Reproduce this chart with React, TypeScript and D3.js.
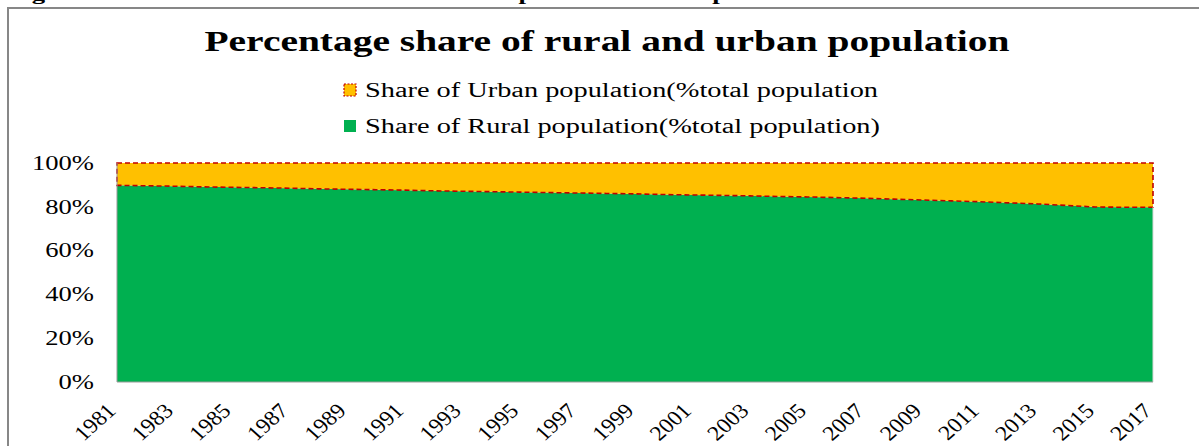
import React from "react";
import * as d3 from "d3";

const years = [1981,1982,1983,1984,1985,1986,1987,1988,1989,1990,1991,1992,1993,1994,1995,1996,1997,1998,1999,2000,2001,2002,2003,2004,2005,2006,2007,2008,2009,2010,2011,2012,2013,2014,2015,2016,2017];
const ruralShare = [89.8,89.6,89.4,89.1,88.9,88.7,88.5,88.2,88.0,87.8,87.6,87.3,87.1,86.9,86.7,86.5,86.3,86.1,85.9,85.6,85.4,85.2,85.0,84.7,84.5,84.2,83.9,83.5,83.1,82.7,82.3,81.8,81.3,80.6,79.9,79.8,79.8];
const urbanShare = [10.2,10.4,10.6,10.9,11.1,11.3,11.5,11.8,12.0,12.2,12.4,12.7,12.9,13.1,13.3,13.5,13.7,13.9,14.1,14.4,14.6,14.8,15.0,15.3,15.5,15.8,16.1,16.5,16.9,17.3,17.7,18.2,18.7,19.4,20.1,20.2,20.2];
const yTicks = [0, 20, 40, 60, 80, 100];
const xTickYears = [1981,1983,1985,1987,1989,1991,1993,1995,1997,1999,2001,2003,2005,2007,2009,2011,2013,2015,2017];
const titleText = "Percentage share of rural and urban population";
const legendUrban = "Share of Urban population(%total population";
const legendRural = "Share of Rural population(%total population)";
const captionText = "Figure 1.3: Share of the Rural and Urban Population of Ethiopia";

const W = 1199, H = 446;
const GREEN = "#00B050";
const ORANGE = "#FFC000";
const RED = "#C00000";
const FONT = "Liberation Serif, Times New Roman, Times, serif";

export default function App() {
  const x = d3.scaleLinear().domain([1981, 2017]).range([117, 1153]);
  const y = d3.scaleLinear().domain([0, 100]).range([382, 163]);

  const rows = years.map((yr, i) => ({ yr, r: ruralShare[i], u: urbanShare[i] }));

  const ruralArea = d3.area<any>()
    .x(d => x(d.yr))
    .y0(() => y(0))
    .y1(d => y(d.r))(rows) as string;

  const urbanArea = d3.area<any>()
    .x(d => x(d.yr))
    .y0(d => y(d.r))
    .y1(d => y(d.r + d.u))(rows) as string;

  const upper = rows.map(d => [x(d.yr), y(d.r + d.u)] as [number, number]);
  const lower = rows.slice().reverse().map(d => [x(d.yr), y(d.r)] as [number, number]);
  const urbanOutline = d3.line()([...upper, ...lower]) + "Z";

  return (
    <svg width={W} height={H} style={{ position: "absolute", left: 0, top: 0, background: "#fff", fontFamily: FONT }}>
      <rect x={0} y={0} width={W} height={H} fill="#fff" />
      {/* caption, cut at the top edge as in the reference */}
      <text x={8} y={0} fontFamily={FONT} fontWeight="bold" fontSize={17} fill="#000"
        textLength={740} lengthAdjust="spacingAndGlyphs">{captionText}</text>
      {/* chart frame */}
      <rect x={8} y={8} width={W + 20} height={H + 20} fill="none" stroke="#878787" strokeWidth={2} />

      {/* title */}
      <text x={607} y={51} textAnchor="middle" fontFamily={FONT} fontWeight="bold" fontSize={29}
        textLength={805} lengthAdjust="spacingAndGlyphs" fill="#000">{titleText}</text>

      {/* legend */}
      <rect x={344} y={84} width={12} height={12} fill={ORANGE} stroke={RED} strokeWidth={1.2} strokeDasharray="2,1.5" />
      <text x={365} y={96.5} fontFamily={FONT} fontSize={20} fill="#000"
        textLength={513} lengthAdjust="spacingAndGlyphs">{legendUrban}</text>
      <rect x={344} y={120} width={12} height={12} fill={GREEN} />
      <text x={365} y={132.5} fontFamily={FONT} fontSize={20} fill="#000"
        textLength={515} lengthAdjust="spacingAndGlyphs">{legendRural}</text>

      {/* areas */}
      <path d={ruralArea} fill={GREEN} />
      <path d={urbanArea} fill={ORANGE} />
      <path d={urbanOutline} fill="none" stroke={RED} strokeWidth={1.6} strokeDasharray="5,3" />
      <line x1={x(2017)} x2={x(2017)} y1={y(ruralShare[ruralShare.length - 1])} y2={y(0)} stroke="#d9d9d9" strokeWidth={1} />

      {/* axes */}
      <line x1={x(1981)} x2={x(1981)} y1={y(100)} y2={y(0)} stroke="#999" strokeWidth={1} />
      <line x1={x(1981)} x2={x(2017)} y1={y(0)} y2={y(0)} stroke="#999" strokeWidth={1.2} />

      {/* y tick labels */}
      {yTicks.map(t => (
        <text key={t} transform={`translate(94,${y(t) + 6.8}) scale(1.33,1)`} textAnchor="end"
          fontFamily={FONT} fontSize={20} fill="#000">{t + "%"}</text>
      ))}

      {/* x tick labels */}
      {xTickYears.map(yr => (
        <text key={yr} transform={`translate(${x(yr)},${y(0) + 30}) scale(1.12,1) rotate(-45)`}
          textAnchor="end" fontFamily={FONT} fontSize={21} fill="#000">{String(yr)}</text>
      ))}
    </svg>
  );
}
